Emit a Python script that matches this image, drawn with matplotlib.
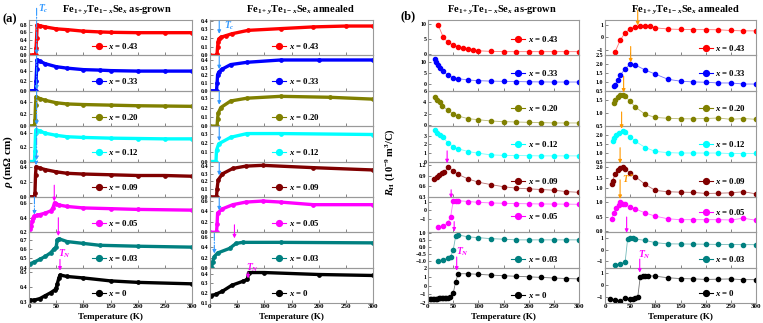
import matplotlib
matplotlib.use('Agg')
import matplotlib.pyplot as plt
from matplotlib.lines import Line2D

plt.rcParams['font.family'] = 'Liberation Serif'
plt.rcParams['font.weight'] = 'bold'
plt.rcParams['mathtext.fontset'] = 'custom'
plt.rcParams['mathtext.rm'] = 'Liberation Serif:bold'
plt.rcParams['mathtext.it'] = 'Liberation Serif:bold:italic'
plt.rcParams['mathtext.bf'] = 'Liberation Serif:bold'

x_labels = ['0.43', '0.33', '0.20', '0.12', '0.09', '0.05', '0.03', '0']
colors = ['#ff0000', '#0000ff', '#808000', '#00ffff', '#800000', '#ff00ff', '#008080', '#000000']

# (a) resistivity, as-grown
rho_grown_T = [
    [0, 5, 10, 12, 13, 14, 15, 20, 30, 50, 70, 100, 130, 150, 200, 250, 300],
    [0, 5, 10, 12, 13, 14, 15, 20, 30, 50, 70, 100, 130, 150, 200, 250, 300],
    [0, 5, 10, 11, 12, 13, 20, 30, 50, 70, 100, 150, 200, 250, 300],
    [0, 5, 10, 11, 12, 13, 20, 30, 50, 70, 100, 150, 200, 250, 300],
    [0, 5, 10, 11, 12, 13, 20, 30, 50, 70, 100, 150, 200, 250, 300],
    [2, 4, 6, 8, 10, 15, 20, 30, 40, 44, 47, 50, 55, 70, 100, 150, 200, 300],
    [1, 10, 20, 30, 40, 46, 50, 52, 55, 70, 100, 130, 200, 300],
    [1, 10, 20, 30, 40, 48, 50, 52, 55, 57, 70, 100, 150, 200, 300],
]
rho_grown = [
    [0, 0, 0, 0.01, 0.2, 0.45, 0.79, 0.77, 0.74, 0.69, 0.67, 0.63, 0.61, 0.6, 0.59, 0.59, 0.59],
    [0, 0, 0, 0, 0.2, 0.45, 0.63, 0.6, 0.55, 0.49, 0.46, 0.43, 0.42, 0.41, 0.4, 0.4, 0.4],
    [0, 0, 0, 0.1, 0.35, 0.49, 0.46, 0.43, 0.39, 0.37, 0.36, 0.35, 0.34, 0.335, 0.33],
    [0, 0, 0, 0.15, 0.4, 0.45, 0.43, 0.4, 0.37, 0.35, 0.34, 0.33, 0.325, 0.32, 0.32],
    [0, 0, 0, 0.05, 0.3, 0.41, 0.39, 0.37, 0.34, 0.32, 0.31, 0.3, 0.29, 0.29, 0.28],
    [0.24, 0.28, 0.35, 0.4, 0.42, 0.43, 0.44, 0.46, 0.49, 0.53, 0.6, 0.59, 0.57, 0.55, 0.53, 0.52, 0.51, 0.5],
    [0.44, 0.46, 0.49, 0.52, 0.56, 0.6, 0.62, 0.7, 0.71, 0.68, 0.66, 0.64, 0.63, 0.62],
    [0.31, 0.31, 0.32, 0.34, 0.36, 0.38, 0.39, 0.42, 0.46, 0.48, 0.47, 0.46, 0.44, 0.43, 0.42],
]
rho_grown_ylim = [(0, 0.92), (0, 0.72), (0, 0.59), (0, 0.5), (0, 0.48), (0.2, 0.68), (0.4, 0.78), (0.29, 0.53)]
rho_grown_ticks = [[0, 0.2, 0.4, 0.6, 0.8], [0, 0.2, 0.4, 0.6], [0, 0.2, 0.4], [0, 0.2, 0.4], [0, 0.2, 0.4],
                   [0.2, 0.4, 0.6], [0.4, 0.5, 0.6, 0.7], [0.3, 0.4, 0.5]]

# (a) resistivity, annealed
rho_ann_T = [
    [0, 12, 13, 14, 15, 16, 20, 30, 40, 70, 130, 190, 250, 300],
    [0, 12, 13, 14, 16, 22, 38, 68, 130, 200, 300],
    [0, 13, 14, 15, 20, 38, 68, 130, 220, 300],
    [0, 11, 12, 16, 38, 68, 130, 300],
    [0, 12, 13, 15, 23, 42, 66, 97, 190, 300],
    [0, 12, 13, 14, 23, 42, 66, 97, 130, 190, 300],
    [3, 5, 8, 14, 36, 48, 60, 130, 300],
    [1, 11, 23, 40, 60, 69, 71, 100, 200, 300],
]
rho_ann = [
    [0, 0, 0.02, 0.1, 0.16, 0.19, 0.21, 0.23, 0.25, 0.29, 0.31, 0.33, 0.34, 0.34],
    [0, 0, 0.1, 0.21, 0.24, 0.28, 0.34, 0.37, 0.4, 0.4, 0.4],
    [0, 0, 0.08, 0.14, 0.2, 0.27, 0.3, 0.32, 0.31, 0.29],
    [0, 0, 0.12, 0.19, 0.26, 0.3, 0.3, 0.29],
    [0, 0, 0.1, 0.22, 0.3, 0.37, 0.4, 0.41, 0.38, 0.35],
    [0, 0, 0.15, 0.37, 0.45, 0.53, 0.58, 0.6, 0.58, 0.53, 0.53],
    [0, 0.12, 0.22, 0.29, 0.38, 0.48, 0.5, 0.5, 0.49],
    [0.17, 0.19, 0.22, 0.28, 0.32, 0.34, 0.41, 0.41, 0.39, 0.38],
]
rho_ann_ylim = [(0, 0.41), (0, 0.46), (0, 0.38), (0, 0.38), (0, 0.46), (0, 0.68), (0, 0.7), (0.1, 0.46)]
rho_ann_ticks = [[0, 0.1, 0.2, 0.3, 0.4], [0, 0.1, 0.2, 0.3, 0.4], [0, 0.1, 0.2, 0.3], [0, 0.1, 0.2, 0.3],
                 [0, 0.1, 0.2, 0.3, 0.4], [0, 0.2, 0.4, 0.6], [0, 0.2, 0.4, 0.6], [0.1, 0.2, 0.3, 0.4]]

# (b) Hall coefficient, as-grown
rh_grown_T = [
    [20, 30, 40, 50, 60, 70, 80, 90, 100, 125, 150, 175, 200, 225, 250, 275, 300],
    [13, 16, 19, 23, 29, 40, 50, 60, 80, 100, 125, 150, 175, 200, 225, 250, 275, 300],
    [13, 18, 23, 28, 40, 50, 60, 80, 100, 125, 150, 175, 200, 225, 250, 275, 300],
    [13, 18, 23, 29, 40, 50, 60, 80, 100, 125, 150, 175, 200, 225, 250, 275, 300],
    [12, 17, 22, 27, 32, 40, 50, 60, 80, 100, 125, 150, 175, 200, 225, 250, 275, 300],
    [20, 30, 40, 45, 50, 55, 60, 80, 100, 125, 150, 175, 200, 225, 250, 275, 300],
    [20, 30, 40, 45, 50, 55, 60, 80, 100, 125, 150, 175, 200, 225, 250, 275, 300],
    [3, 6, 9, 12, 15, 18, 21, 24, 27, 30, 33, 36, 40, 43, 50, 55, 60, 80, 100, 125, 150, 175, 200, 225,
     250, 275, 300],
]
rh_grown = [
    [9.8, 5.7, 3.8, 3.0, 2.4, 2.0, 1.7, 1.4, 1.0, 0.8, 0.7, 0.7, 0.7, 0.7, 0.7, 0.7, 0.7],
    [11.1, 9.8, 8.5, 7.3, 5.8, 3.9, 2.9, 2.4, 1.8, 1.5, 1.3, 1.2, 1.1, 1.0, 0.95, 0.9, 0.9, 0.9],
    [4.86, 4.4, 4.0, 3.43, 2.57, 2.0, 1.6, 1.14, 0.97, 0.74, 0.63, 0.57, 0.51, 0.46, 0.4, 0.4, 0.4],
    [3.7, 3.4, 3.1, 2.84, 2.2, 1.75, 1.48, 1.17, 0.97, 0.78, 0.72, 0.7, 0.68, 0.66, 0.66, 0.66, 0.66],
    [0.81, 0.85, 0.91, 0.97, 0.99, 1.14, 1.04, 0.93, 0.80, 0.71, 0.64, 0.58, 0.54, 0.52, 0.50, 0.48, 0.44, 0.42],
    [-2.0, -1.85, -1.45, -0.75, 1.1, 1.15, 1.15, 1.05, 0.95, 0.88, 0.84, 0.8, 0.78, 0.76, 0.75, 0.74, 0.72],
    [-1.0, -0.93, -0.81, -0.7, -0.24, 0.77, 0.85, 0.72, 0.66, 0.59, 0.55, 0.5, 0.5, 0.5, 0.5, 0.5, 0.5],
    [-1.5, -1.5, -1.5, -1.5, -1.5, -1.5, -1.48, -1.47, -1.46, -1.45, -1.44, -1.42, -1.38, -1.35, -0.9, 0.45,
     1.35, 1.35, 1.28, 1.2, 1.12, 1.06, 1.0, 0.93, 0.86, 0.8, 0.76],
]
rh_grown_ylim = [(-0.55, 11.4), (-3.0, 12.8), (-0.15, 6.0), (0, 4.15), (0.29, 1.3), (-2.6, 1.6), (-1.5, 1.05),
                 (-2.0, 2.05)]
rh_grown_ticks = [[0, 5, 10], [0, 5, 10], [0, 2, 4, 6], [0, 1, 2, 3], [0.3, 0.6, 0.9, 1.2], [-1, 0, 1],
                  [-1.0, -0.5, 0.0, 0.5, 1.0], [-2, -1, 0, 1, 2]]

# (b) Hall coefficient, annealed
rh_ann_T = [
    [20, 30, 40, 50, 60, 70, 80, 90, 100, 125, 150, 175, 200, 225, 250, 275, 300],
    [17, 20, 25, 30, 40, 50, 60, 80, 100, 125, 150, 175, 200, 225, 250, 275, 300],
    [17, 20, 25, 30, 35, 40, 50, 60, 80, 100, 125, 150, 175, 200, 225, 250, 275, 300],
    [15, 18, 22, 27, 35, 40, 50, 60, 80, 100, 125, 150, 175, 200, 225, 250, 275, 300],
    [13, 15, 20, 25, 30, 35, 40, 50, 60, 80, 100, 125, 150, 175, 200, 225, 250, 275, 300],
    [13, 17, 22, 27, 30, 35, 40, 50, 60, 80, 100, 125, 150, 175, 200, 225, 250, 275, 300],
    [20, 30, 40, 45, 50, 55, 60, 80, 100, 125, 150, 175, 200, 225, 250, 275, 300],
    [10, 20, 30, 40, 50, 55, 60, 65, 70, 75, 80, 85, 100, 125, 150, 175, 200, 225, 250, 275, 300],
]
rh_ann = [
    [-1.2, -0.25, 0.37, 0.7, 0.86, 0.94, 0.92, 0.89, 0.78, 0.68, 0.65, 0.63, 0.63, 0.62, 0.56, 0.53, 0.53],
    [0.75, 0.83, 1.1, 1.38, 1.73, 2.0, 1.96, 1.67, 1.44, 1.15, 1.04, 1.0, 0.98, 0.94, 0.94, 0.88, 0.88],
    [1.375, 1.51, 1.6, 1.675, 1.69, 1.64, 1.45, 1.23, 0.95, 0.83, 0.8, 0.78, 0.78, 0.79, 0.81, 0.76, 0.79, 0.76],
    [1.64, 1.82, 2.02, 2.13, 2.22, 2.15, 1.91, 1.65, 1.29, 1.07, 1.0, 0.98, 0.98, 0.98, 0.98, 0.95, 0.95, 0.96],
    [1.19, 1.35, 1.65, 1.84, 1.95, 2.0, 1.9, 1.73, 1.55, 1.18, 0.9, 0.84, 0.82, 0.81, 0.76, 0.77, 0.79, 0.84, 0.74],
    [0.43, 0.63, 0.8, 0.9, 1.0, 0.94, 0.92, 0.83, 0.77, 0.63, 0.52, 0.43, 0.4, 0.4, 0.4, 0.4, 0.39, 0.45, 0.38],
    [-1.34, -1.2, -1.06, 0.94, 1.0, 0.97, 0.91, 0.8, 0.6, 0.5, 0.49, 0.48, 0.47, 0.45, 0.44, 0.43, 0.43],
    [-1.2, -1.22, -1.32, -1.08, -1.14, -1.14, -1.08, -1.02, 0.7, 0.76, 0.8, 0.8, 0.75, 0.62, 0.55, 0.53, 0.48,
     0.5, 0.52, 0.46, 0.46],
]
rh_ann_ylim = [(-1.48, 1.42), (0.5, 2.5), (0.5, 1.85), (0.5, 2.5), (0.6, 2.25), (-0.03, 1.18), (-1.55, 1.5),
               (-1.5, 1.47)]
rh_ann_ticks = [[-1, 0, 1], [0.5, 1.0, 1.5, 2.0, 2.5], [0.5, 1.0, 1.5], [0.5, 1.0, 1.5, 2.0], [1.0, 1.5, 2.0],
                [0.0, 0.5, 1.0], [-1, 0, 1], [-1, 0, 1]]

W, H = 763, 323
fig = plt.figure(figsize=(W / 100, H / 100), dpi=100)
col_x = [(29, 192), (210, 373), (428, 579), (605, 756)]
top, bot = 20, 303
rh_px = (bot - top) / 8

columns = [(rho_grown_T, rho_grown, rho_grown_ylim, rho_grown_ticks),
           (rho_ann_T, rho_ann, rho_ann_ylim, rho_ann_ticks),
           (rh_grown_T, rh_grown, rh_grown_ylim, rh_grown_ticks),
           (rh_ann_T, rh_ann, rh_ann_ylim, rh_ann_ticks)]
leg_x = [0.385, 0.38, 0.55, 0.62]
leg_y = [[0.27] * 8, [0.27] * 8,
         [0.45, 0.5, 0.5, 0.5, 0.45, 0.45, 0.25, 0.22],
         [0.2, 0.5, 0.5, 0.5, 0.45, 0.57, 0.25, 0.27]]

axes = {}
for c, (Ts, Vs, ylims, ticks) in enumerate(columns):
    x0, x1 = col_x[c]
    for r in range(8):
        yt = top + r * rh_px
        ax = fig.add_axes([x0 / W, 1 - (yt + rh_px) / H, (x1 - x0) / W, rh_px / H])
        ax.set_facecolor('none')
        axes[(c, r)] = ax
        col = colors[r]
        if c < 2:
            ax.plot(Ts[r], Vs[r], '-o', color=col, lw=2.4, ms=2.4, solid_joinstyle='round')
        else:
            ax.plot(Ts[r], Vs[r], '-', color=col, lw=0.6, alpha=0.55)
            ax.plot(Ts[r], Vs[r], 'o', color=col, ms=3.0, mec=col)
        ax.set_xlim(0, 300)
        ax.set_ylim(*ylims[r])
        ax.set_yticks(ticks[r])
        ax.set_xticks([0, 50, 100, 150, 200, 250, 300])
        ax.tick_params(direction='in', length=2, width=0.5, labelsize=4.3, pad=1.2, colors='#555555',
                       labelcolor='black')
        for s in ax.spines.values():
            s.set_color('#999999')
            s.set_linewidth(0.8)
        if r < 7:
            ax.tick_params(labelbottom=False)
        else:
            ax.tick_params(axis='x', labelsize=5, pad=0.8)
        h = Line2D([], [], color=col, marker='o', ms=4.2, lw=0.8)
        ax.legend(handles=[h], labels=['$x$ = ' + x_labels[r]], loc='center left',
                  bbox_to_anchor=(leg_x[c], leg_y[c][r]), frameon=False, fontsize=6.3,
                  handlelength=1.6, handletextpad=0.3, borderpad=0, borderaxespad=0)


def arrow(c, r, T, yhead, tail, color, ls='-'):
    axes[(c, r)].annotate('', xy=(T, yhead), xytext=(T, tail), xycoords='data',
                          textcoords=('data', 'axes fraction'), annotation_clip=False,
                          arrowprops=dict(arrowstyle='-|>', color=color, lw=0.8, ls=ls,
                                          mutation_scale=5, shrinkA=0, shrinkB=0))


tc_col = '#3399ff'
mag = '#ff00ff'
ora = '#ff9900'

# (a) as-grown
arrow(0, 0, 14, 0.03, 1.33, tc_col, '-.')
for r in (1, 2, 3):
    arrow(0, r, 14, rho_grown_ylim[r][0] + 0.02, 1.0, tc_col, '-.')
arrow(0, 4, 13, 0.43, 1.0, tc_col, '-.')
arrow(0, 5, 10, 0.44, 1.0, tc_col, '-.')
axes[(0, 0)].text(17, 1.32, '$T_c$', transform=axes[(0, 0)].get_xaxis_transform(), color=tc_col,
                  fontsize=7, va='center', ha='left')
arrow(0, 5, 46.5, 0.62, 1.33, mag)
arrow(0, 6, 54, 0.74, 1.41, mag)
arrow(0, 7, 57, 0.51, 1.23, mag)
axes[(0, 7)].text(53, 1.38, '$T_N$', transform=axes[(0, 7)].get_xaxis_transform(), color=mag,
                  fontsize=7, va='center', ha='left')

# (a) annealed
for r, yh in zip(range(6), [0.25, 0.28, 0.23, 0.22, 0.28, 0.42]):
    arrow(1, r, 17, yh, 0.97, tc_col)
arrow(1, 6, 8, 0.28, 0.97, tc_col, '-.')
axes[(1, 0)].text(25, 0.84, '$T_c$', transform=axes[(1, 0)].get_xaxis_transform(), color=tc_col,
                  fontsize=7, va='center', ha='left')
arrow(1, 6, 45, 0.58, 1.21, mag)
arrow(1, 7, 70, 0.35, 0.87, mag)
axes[(1, 7)].text(67, 0.99, '$T_N$', transform=axes[(1, 7)].get_xaxis_transform(), color=mag,
                  fontsize=7, va='center', ha='left')

# (b) as-grown
arrow(2, 4, 38, 1.25, 1.3, mag)
arrow(2, 5, 46, 1.45, 1.2, mag)
arrow(2, 6, 52, 1.1, 1.3, mag)
arrow(2, 7, 57, 1.7, 1.3, mag)
axes[(2, 7)].text(55, 1.44, '$T_N$', transform=axes[(2, 7)].get_xaxis_transform(), color=mag,
                  fontsize=7, va='center', ha='left')

# (b) annealed
arrow(3, 0, 65, 0.98, 1.28, ora)
arrow(3, 1, 51, 2.1, 1.25, ora)
arrow(3, 2, 37, 1.78, 1.41, ora)
arrow(3, 3, 33, 2.35, 1.4, ora)
arrow(3, 4, 30, 2.16, 1.39, ora)
arrow(3, 5, 30, 1.11, 1.48, ora)
axes[(3, 4)].text(33, 0.5, '$T^*$', transform=axes[(3, 4)].get_xaxis_transform(), color=ora,
                  fontsize=7, va='center', ha='left')
arrow(3, 6, 43, 1.45, 1.43, mag)
arrow(3, 7, 69, 1.05, 1.24, mag)
axes[(3, 7)].text(65, 1.36, '$T_N$', transform=axes[(3, 7)].get_xaxis_transform(), color=mag,
                  fontsize=7, va='center', ha='left')

# titles and labels
title_x = [117, 300, 502, 685]
title_txt = ['as-grown', 'annealed', 'as-grown', 'annealed']
for tx, t in zip(title_x, title_txt):
    fig.text(tx / W, 1 - 10 / H, 'Fe$_{1+y}$Te$_{1-x}$Se$_x$ ' + t, ha='center', va='center',
             fontsize=7.5, fontweight='bold')
for c in range(4):
    x0, x1 = col_x[c]
    fig.text((x0 + x1) / 2 / W, 1 - 317 / H, 'Temperature (K)', ha='center', va='center',
             fontsize=6.5, fontweight='bold')
fig.text(10 / W, 1 - 19 / H, '(a)', ha='center', va='center', fontsize=9)
fig.text(408 / W, 1 - 16 / H, '(b)', ha='center', va='center', fontsize=9)
fig.text(8 / W, 1 - 162 / H, r'$\rho$ (m$\Omega$ cm)', rotation=90, ha='center', va='center', fontsize=8)
fig.text(390 / W, 1 - 162 / H, r'$R_{\rm H}$ (10$^{-9}$ m$^3$/C)', rotation=90, ha='center', va='center',
         fontsize=7.5)

fig.savefig('out.png', dpi=100, facecolor='white')
